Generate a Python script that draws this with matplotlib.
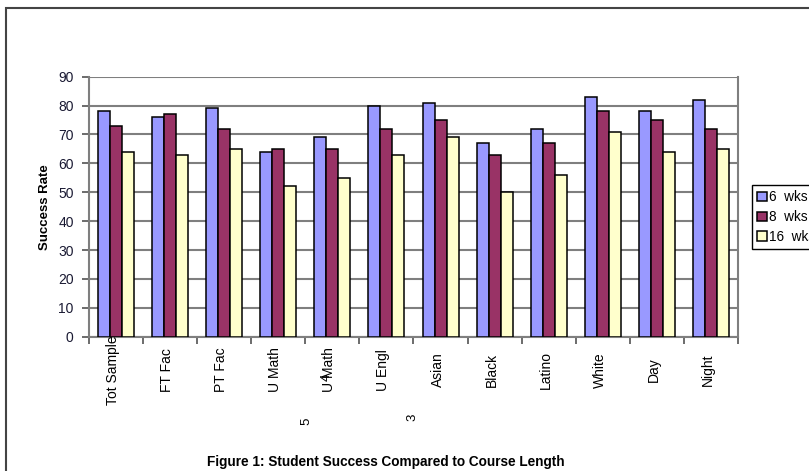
import matplotlib.pyplot as plt
import numpy as np
from matplotlib.patches import Rectangle

plt.rcParams['font.family'] = ['Liberation Sans', 'DejaVu Sans']

# datos
categorias = ['Tot Sample', 'FT Fac', 'PT Fac', 'U Math', 'U Math', 'U Engl',
              'Asian', 'Black', 'Latino', 'White', 'Day', 'Night']
wks6 = [78, 76, 79, 64, 69, 80, 81, 67, 72, 83, 78, 82]
wks8 = [73, 77, 72, 65, 65, 72, 75, 63, 67, 78, 75, 72]
wks16 = [64, 63, 65, 52, 55, 63, 69, 50, 56, 71, 64, 65]
series_labels = ['6  wks', '8  wks', '16  wks']
colores = ['#9999FF', '#993366', '#FFFFCC']

W, H = 809, 471
fig = plt.figure(figsize=(W / 100, H / 100), dpi=100)

# marco exterior del documento
fig.patches.append(Rectangle((6 / W, -0.1), 1.2, 1 - 8 / H + 0.1, transform=fig.transFigure,
                             fill=False, edgecolor='#444444', linewidth=1.5))

ax = fig.add_axes([89 / W, 1 - 336.7 / H, (738 - 89) / W, 260 / H])

x = np.arange(len(categorias))
ancho = 0.222
for k, (vals, col, lab) in enumerate(zip([wks6, wks8, wks16], colores, series_labels)):
    ax.bar(x + (k - 1) * ancho, vals, width=ancho, color=col, edgecolor='black',
           linewidth=1.1, label=lab, zorder=3)

ax.set_xlim(-0.5, len(categorias) - 0.5)
ax.set_ylim(0, 90)
ax.set_yticks(np.arange(0, 91, 10))
ax.yaxis.grid(True, color='#7f7f7f', linewidth=1.5, zorder=0)
for s in ax.spines.values():
    s.set_color('#7f7f7f')
    s.set_linewidth(1.5)
ax.spines['top'].set_visible(False)

ax.set_xticks(x)
ax.set_xticklabels([])
ax.set_xticks(np.arange(-0.5, len(categorias), 1), minor=True)
ax.tick_params(axis='x', which='major', length=0)
ax.tick_params(axis='x', which='minor', length=5, color='#606060', width=1.3, direction='out')
ax.tick_params(axis='y', length=5, color='#606060', width=1.3, pad=6,
               labelsize=10, labelcolor='#1a1a33')

# etiquetas de categoria rotadas
for i, c in enumerate(categorias):
    xf = (89 + 54.08 * (i + 0.5) - 3) / W
    fig.text(xf, 1 - 370 / H, c, rotation=90, ha='center', va='center', fontsize=10)

# restos de texto sueltos del documento (el "4" se superpone como en el original)
fig.text(306 / W, 1 - 421 / H, '5', rotation=90, ha='center', va='center', fontsize=9.5)
fig.text(412 / W, 1 - 417 / H, '3', rotation=90, ha='center', va='center', fontsize=9.5)
fig.text(327 / W, 1 - 377 / H, '4', rotation=90, ha='center', va='center', fontsize=9.5)

fig.text(45 / W, 1 - 207 / H, 'Success Rate', rotation=90, ha='center', va='center',
         fontsize=9.5, fontweight='bold')

leg = fig.legend(loc='upper left', bbox_to_anchor=(752 / W, 1 - 185 / H), fontsize=9.8,
                 handlelength=0.7, handleheight=0.7, handletextpad=0.15, borderpad=0.4,
                 labelspacing=0.42, fancybox=False, framealpha=1, borderaxespad=0)
leg.get_frame().set_edgecolor('black')
leg.get_frame().set_linewidth(1.0)

fig.text(386 / W, 1 - 462 / H, 'Figure 1: Student Success Compared to Course Length',
         ha='center', va='center', fontsize=9.8, fontweight='bold')

fig.savefig('out.png', dpi=100)
